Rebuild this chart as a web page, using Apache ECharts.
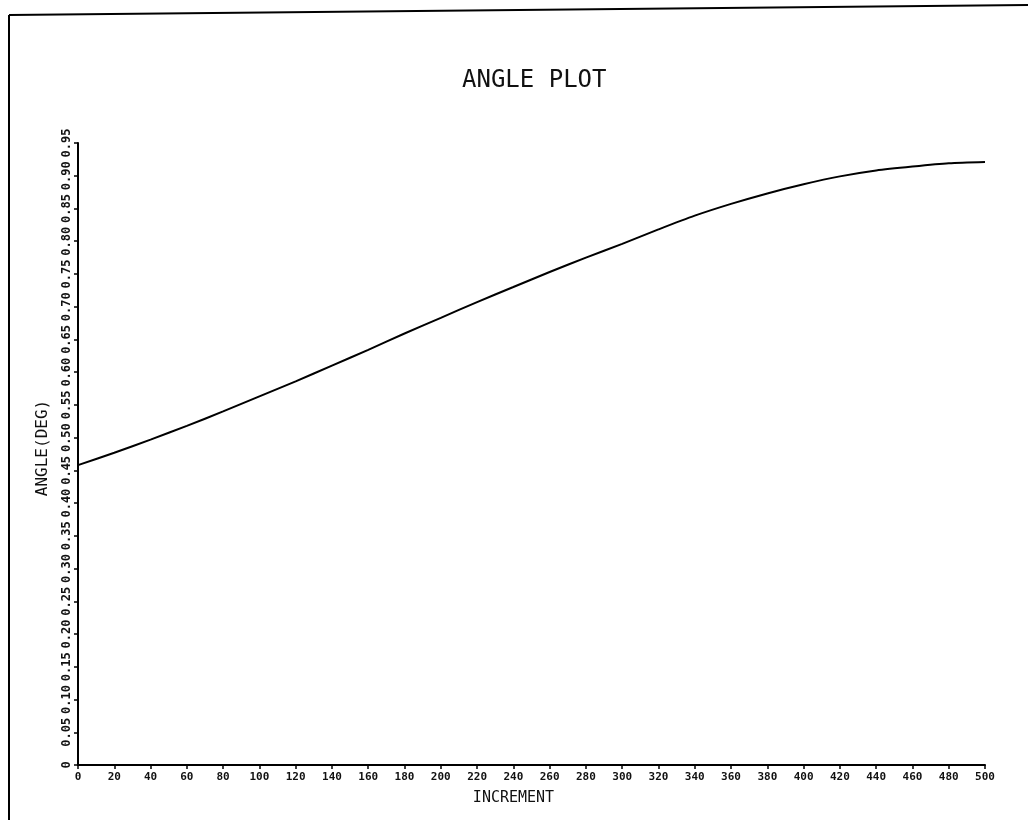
<!DOCTYPE html>
<html>
<head>
<meta charset="utf-8">
<script src="https://cdn.jsdelivr.net/npm/echarts@6/dist/echarts.min.js"></script>
<style>
html,body{margin:0;padding:0;background:#fff;}
#chart{width:1028px;height:820px;}
</style>
</head>
<body>
<div id="chart"></div>
<script>
var titleText = 'ANGLE PLOT';
var xName = 'INCREMENT';
var yName = 'ANGLE(DEG)';
var increments = [0,20,40,60,80,100,120,140,160,180,200,220,240,260,280,300,320,340,360,380,400,420,440,460,480,500];
var angles = [0.458,0.477,0.497,0.518,0.540,0.563,0.586,0.610,0.634,0.659,0.683,0.707,0.730,0.753,0.775,0.796,0.818,0.839,0.857,0.873,0.887,0.899,0.908,0.914,0.919,0.921];

var points = increments.map(function(x,i){return [x, angles[i]];});
var mono = 'DejaVu Sans Mono';
var chart = echarts.init(document.getElementById('chart'));
chart.setOption({
  backgroundColor:'#fff',
  animation:false,
  title:{
    text:titleText,
    left:457, top:64,
    textStyle:{fontFamily:mono, fontSize:24, fontWeight:'normal', color:'#111'}
  },
  grid:{left:78, right:43, top:143, bottom:55, containLabel:false},
  xAxis:{
    type:'value', min:0, max:500, interval:20,
    name:xName, nameLocation:'middle', nameGap:26,
    nameTextStyle:{fontFamily:mono, fontSize:15, color:'#111', padding:[0,36,0,0]},
    axisLine:{show:true, lineStyle:{color:'#000', width:2}},
    axisTick:{show:true, length:4, lineStyle:{color:'#000', width:1.5}},
    axisLabel:{fontFamily:mono, fontSize:11, fontWeight:'bold', color:'#111', margin:7, showMinLabel:true, showMaxLabel:true},
    splitLine:{show:false}
  },
  yAxis:{
    type:'value', min:0, max:0.95, interval:0.05,
    name:yName, nameLocation:'middle', nameGap:27, nameRotate:90,
    nameTextStyle:{fontFamily:mono, fontSize:16, color:'#111', padding:[0,0,0,12]},
    axisLine:{show:true, lineStyle:{color:'#000', width:2}},
    axisTick:{show:true, length:4, lineStyle:{color:'#000', width:1.5}},
    axisLabel:{fontFamily:mono, fontSize:12, fontWeight:'bold', color:'#111', margin:5, rotate:90,
      showMinLabel:true, showMaxLabel:true,
      formatter:function(v){return v===0?'0':v.toFixed(2);}},
    splitLine:{show:false}
  },
  series:[{
    type:'line', data:points, smooth:0.25, showSymbol:false,
    lineStyle:{color:'#000', width:2}
  }],
  graphic:[
    {type:'line', shape:{x1:9,y1:15,x2:9,y2:820}, style:{stroke:'#000', lineWidth:2}},
    {type:'line', shape:{x1:9,y1:15,x2:1028,y2:5}, style:{stroke:'#000', lineWidth:2}}
  ]
});
</script>
</body>
</html>
